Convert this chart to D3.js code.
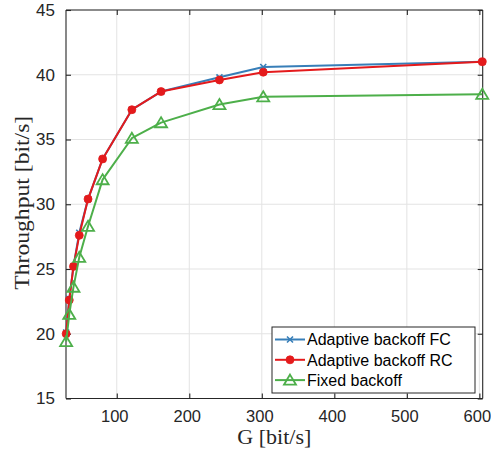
<!DOCTYPE html>
<html>
<head>
<meta charset="utf-8">
<script src="https://cdn.jsdelivr.net/npm/d3@7"></script>
<style>
  html, body { margin: 0; padding: 0; background: #fff; }
  svg { display: block; }
</style>
</head>
<body>
<script>
// Offered load G [bit/s]
const G = [30.2, 34.5, 40.3, 48.3, 60.4, 80.5, 120.8, 161.1, 241.6, 302, 604];
// Throughput [bit/s] for each backoff scheme
const adaptiveFC = [20.1, 22.7, 25.2, 27.8, 30.4, 33.5, 37.3, 38.7, 39.8, 40.6, 41.0];
const adaptiveRC = [20.0, 22.6, 25.2, 27.6, 30.4, 33.5, 37.3, 38.7, 39.6, 40.2, 41.0];
const fixedBackoff = [19.4, 21.5, 23.6, 25.9, 28.3, 31.9, 35.1, 36.3, 37.7, 38.3, 38.5];

const xTicks = [100, 200, 300, 400, 500, 600];
const yTicks = [15, 20, 25, 30, 35, 40, 45];
const seriesNames = ["Adaptive backoff FC", "Adaptive backoff RC", "Fixed backoff"];

const W = 491, H = 452;
const m = { left: 66, right: 482.7, top: 10, bottom: 398.5 };

const svg = d3.select("body").append("svg").attr("width", W).attr("height", H);

const x = d3.scaleLinear().domain([30, 604.6]).range([m.left, m.right]);
const y = d3.scaleLinear().domain([15, 45]).range([m.bottom, m.top]);

const axisColor = "#262626";
const gridColor = "#e3e3e3";
const tickFont = "'Liberation Sans', Arial, Helvetica, sans-serif";
const serifFont = "'Liberation Serif', 'Times New Roman', serif";

// grid
const grid = svg.append("g");
grid.selectAll("line.gx").data(xTicks).join("line")
  .attr("x1", d => x(d)).attr("x2", d => x(d))
  .attr("y1", m.top).attr("y2", m.bottom)
  .attr("stroke", gridColor).attr("stroke-width", 1);
grid.selectAll("line.gy").data(yTicks).join("line")
  .attr("x1", m.left).attr("x2", m.right)
  .attr("y1", d => y(d)).attr("y2", d => y(d))
  .attr("stroke", gridColor).attr("stroke-width", 1);

// axes with inward ticks on all four sides
const tickLen = 5;
const axB = svg.append("g").attr("transform", `translate(0,${m.bottom})`)
  .call(d3.axisBottom(x).tickValues(xTicks).tickSize(-tickLen).tickPadding(12).tickFormat(d3.format("d")));
const axT = svg.append("g").attr("transform", `translate(0,${m.top})`)
  .call(d3.axisTop(x).tickValues(xTicks).tickSize(-tickLen).tickFormat(""));
const axL = svg.append("g").attr("transform", `translate(${m.left},0)`)
  .call(d3.axisLeft(y).tickValues(yTicks).tickSize(-tickLen).tickPadding(11).tickFormat(d3.format("d")));
const axR = svg.append("g").attr("transform", `translate(${m.right},0)`)
  .call(d3.axisRight(y).tickValues(yTicks).tickSize(-tickLen).tickFormat(""));

[axB, axT, axL, axR].forEach(a => {
  a.select(".domain").attr("stroke", axisColor).attr("stroke-width", 1.1);
  a.selectAll(".tick line").attr("stroke", axisColor).attr("stroke-width", 1.1);
  a.selectAll(".tick text").attr("fill", axisColor)
    .style("font-family", tickFont).style("font-size", "17px");
});
axB.selectAll(".tick text").style("font-size", "16.5px").attr("dx", -2.5);
axB.selectAll(".domain").attr("d", `M${m.left},0H${m.right}`);
axT.selectAll(".domain").attr("d", `M${m.left},0H${m.right}`);
axL.selectAll(".domain").attr("d", `M0,${m.top}V${m.bottom}`);
axR.selectAll(".domain").attr("d", `M0,${m.top}V${m.bottom}`);

// axis titles
svg.append("text")
  .attr("x", (m.left + m.right) / 2).attr("y", 444)
  .attr("text-anchor", "middle")
  .attr("fill", axisColor)
  .attr("textLength", 74).attr("lengthAdjust", "spacingAndGlyphs")
  .style("font-family", serifFont).style("font-size", "20px")
  .text("G [bit/s]");
svg.append("text")
  .attr("transform", `translate(29,${(m.top + m.bottom) / 2 - 1.5}) rotate(-90)`)
  .attr("text-anchor", "middle")
  .attr("fill", axisColor)
  .attr("textLength", 174).attr("lengthAdjust", "spacingAndGlyphs")
  .style("font-family", serifFont).style("font-size", "20px")
  .text("Throughput [bit/s]");

const colors = ["#377eb8", "#e41a1c", "#4daf4a"];
const line = d3.line().x(d => x(d[0])).y(d => y(d[1]));
const plot = svg.append("g");

// marker drawing helpers
function crossMarker(g, cx, cy, color) {
  const s = 3;
  g.append("path")
    .attr("d", `M${cx - s},${cy - s}L${cx + s},${cy + s}M${cx - s},${cy + s}L${cx + s},${cy - s}`)
    .attr("stroke", color).attr("stroke-width", 1.6).attr("fill", "none");
}
function dotMarker(g, cx, cy, color) {
  g.append("circle").attr("cx", cx).attr("cy", cy).attr("r", 4)
    .attr("fill", color).attr("stroke", color).attr("stroke-width", 0.8);
}
function triMarker(g, cx, cy, color) {
  g.append("path")
    .attr("d", `M${cx},${cy - 5.5}L${cx + 6},${cy + 4.6}L${cx - 6},${cy + 4.6}Z`)
    .attr("stroke", color).attr("stroke-width", 1.8).attr("fill", "none")
    .attr("stroke-linejoin", "miter");
}
const markers = [crossMarker, dotMarker, triMarker];
const series = [adaptiveFC, adaptiveRC, fixedBackoff];

series.forEach((vals, i) => {
  const pts = G.map((g, k) => [g, vals[k]]);
  plot.append("path").datum(pts).attr("d", line)
    .attr("fill", "none").attr("stroke", colors[i]).attr("stroke-width", 2)
    .attr("stroke-linejoin", "round");
  pts.forEach(p => markers[i](plot, x(p[0]), y(p[1]), colors[i]));
});

// legend
const lg = svg.append("g");
const lx0 = 272, ly0 = 327, lw = 203, lh = 66;
lg.append("rect").attr("x", lx0).attr("y", ly0).attr("width", lw).attr("height", lh)
  .attr("fill", "#fff").attr("stroke", axisColor).attr("stroke-width", 1);
seriesNames.forEach((name, i) => {
  const yy = 339.5 + i * 20.3;
  lg.append("line").attr("x1", 275).attr("x2", 305).attr("y1", yy).attr("y2", yy)
    .attr("stroke", colors[i]).attr("stroke-width", 2);
  markers[i](lg, 290, yy, colors[i]);
  lg.append("text").attr("x", 307).attr("y", yy + 5.8)
    .attr("fill", "#000")
    .style("font-family", tickFont).style("font-size", "16px")
    .text(name);
});
</script>
</body>
</html>
